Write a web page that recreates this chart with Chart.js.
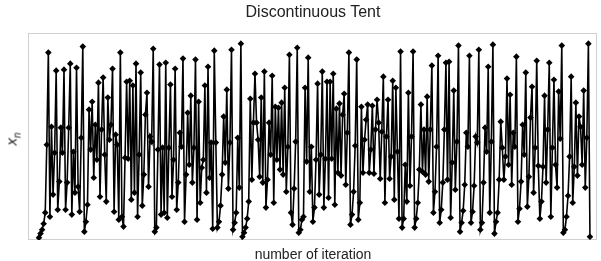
<!DOCTYPE html>
<html>
<head>
<meta charset="utf-8">
<script src="https://cdn.jsdelivr.net/npm/chart.js@4/dist/chart.umd.min.js"></script>
<style>
  html, body { margin: 0; padding: 0; background: #fff; }
  #wrap { position: relative; width: 601px; height: 261px; font-family: "Liberation Sans", Arial, sans-serif; color: #222; }
  #title { position: absolute; left: 28px; width: 570px; top: 3px; text-align: center; font-size: 16px; }
  #xlabel { position: absolute; left: 28px; width: 570px; top: 246px; text-align: center; font-size: 14px; }
  #ylabel { position: absolute; left: 6px; top: 129px; font-size: 15px; transform: rotate(-90deg); transform-origin: center; }
  #ylabel sub { font-size: 10px; }
  canvas { position: absolute; left: 0; top: 0; }
</style>
</head>
<body>
<div id="wrap">
  <canvas id="c" width="601" height="261"></canvas>
  <div id="title">Discontinuous Tent</div>
  <div id="ylabel"><i>x</i><sub><i>n</i></sub></div>
  <div id="xlabel">number of iteration</div>
</div>
<script>
/* ── Data (left to right) ────────────────────────────────────── */
var seg1 = [0.000, 0.021, 0.041, 0.072, 0.129, 0.479, 0.954, 0.108, 0.572, 0.222,
  0.438, 0.861, 0.144, 0.289, 0.567, 0.438, 0.866, 0.144, 0.284, 0.567,
  0.897, 0.119, 0.443, 0.232, 0.876];
var seg2 = [0.263, 0.134, 0.515, 0.985, 0.031, 0.082, 0.170, 0.660, 0.454, 0.701,
  0.309, 0.582, 0.402, 0.799, 0.211, 0.557, 0.825, 0.428, 0.186, 0.722,
  0.505, 0.582, 0.871, 0.134, 0.531, 0.479, 0.093, 0.954];
var seg3 = [0.108, 0.057, 0.412, 0.804, 0.407, 0.809, 0.196, 0.784, 0.232, 0.897,
  0.108, 0.428, 0.851, 0.165, 0.325, 0.634, 0.747, 0.263, 0.521, 0.495,
  0.974, 0.031, 0.052, 0.454, 0.892, 0.119, 0.464, 0.129, 0.902];
var seg4 = [0.103, 0.464, 0.789, 0.211, 0.402, 0.871, 0.144, 0.284, 0.541, 0.469,
  0.923, 0.082, 0.325, 0.644, 0.376, 0.732, 0.284, 0.464, 0.918, 0.093,
  0.701, 0.180, 0.361, 0.402, 0.784, 0.232, 0.881, 0.309, 0.490, 0.046, 0.964];
var seg5 = [0.490, 0.052, 0.082, 0.165, 0.325, 0.624, 0.387, 0.763, 0.253, 0.490,
  0.969, 0.041, 0.077, 0.129, 0.515, 0.258, 1.000, 0.005, 0.026, 0.052,
  0.098, 0.186, 0.716, 0.299, 0.593, 0.845, 0.593, 0.505, 0.314, 0.722];
var seg6 = [0.284, 0.856, 0.155, 0.299, 0.593, 0.428, 0.835, 0.180, 0.675, 0.402,
  0.670, 0.351, 0.696, 0.325, 0.773, 0.237, 0.469, 0.943, 0.129, 0.067,
  0.253, 0.495, 0.979, 0.026, 0.041, 0.093, 0.108, 0.773, 0.392, 0.928];
var seg7 = [0.237, 0.469, 0.082, 0.155, 0.402, 0.794, 0.222, 0.428, 0.856, 0.155,
  0.407, 0.804, 0.206, 0.804, 0.407, 0.845, 0.170, 0.665, 0.335, 0.691,
  0.320, 0.634, 0.742, 0.273, 0.541, 0.954, 0.067];
var seg8 = [0.119, 0.237, 0.474, 0.918, 0.093, 0.180, 0.675, 0.335, 0.505, 0.608,
  0.686, 0.335, 0.454, 0.680, 0.330, 0.557, 0.711, 0.593, 0.304, 0.546,
  0.830, 0.180, 0.521, 0.711, 0.304, 0.418, 0.809, 0.196, 0.773, 0.443,
  0.098, 0.959];
var seg9 = [0.052, 0.098, 0.376, 0.186, 0.747, 0.268, 0.521, 0.959, 0.052, 0.098,
  0.180, 0.351, 0.686, 0.340, 0.557, 0.325, 0.727, 0.289, 0.557, 0.887,
  0.129, 0.237, 0.469, 0.938, 0.077, 0.144, 0.284, 0.557, 0.902, 0.299];
var seg10 = [0.907, 0.103, 0.387, 0.758, 0.247, 0.495, 0.990, 0.031, 0.077, 0.139,
  0.273, 0.541, 0.469, 0.938, 0.077, 0.134, 0.268, 0.521, 0.490, 0.969,
  0.041, 0.077, 0.284, 0.567, 0.443, 0.881, 0.129, 0.495, 0.995, 0.021,
  0.082, 0.129, 0.299, 0.598, 0.464];
var seg11 = [0.299, 0.418, 0.820, 0.376, 0.737, 0.273, 0.541, 0.469, 0.933, 0.082,
  0.149, 0.289, 0.582, 0.428, 0.851, 0.160, 0.314, 0.619, 0.778, 0.232,
  0.464, 0.912, 0.371, 0.098, 0.186, 0.366, 0.732, 0.284, 0.557, 0.902,
  0.108, 0.464, 0.814];
var seg12 = [0.376, 0.258, 0.753, 0.510, 0.990, 0.026, 0.041, 0.108, 0.216, 0.418,
  0.830, 0.180, 0.366, 0.696, 0.320, 0.624, 0.572, 0.376, 0.758, 0.258,
  0.515, 1.000, 0.005];

var xn = [].concat(seg1, seg2, seg3, seg4, seg5, seg6, seg7, seg8, seg9, seg10, seg11, seg12);
var iterations = xn.map(function (v, i) { return i + 1; });

/* ── Frame plugin ─────────────────────────────────────────────── */
var framePlugin = {
  id: "frame",
  beforeDatasetsDraw: function (chart) {
    var a = chart.chartArea, ctx = chart.ctx;
    ctx.save();
    ctx.strokeStyle = "#cfcfcf";
    ctx.lineWidth = 1;
    ctx.strokeRect(a.left + 0.5, a.top + 0.5, a.right - a.left - 1, a.bottom - a.top - 1);
    ctx.restore();
  }
};

new Chart(document.getElementById("c").getContext("2d"), {
  type: "line",
  data: {
    datasets: [{
      data: xn.map(function (v, i) { return { x: iterations[i], y: v }; }),
      borderColor: "#000",
      backgroundColor: "#000",
      borderWidth: 1.6,
      pointStyle: "rectRot",
      pointRadius: 3.3,
      pointBorderWidth: 0,
      tension: 0,
      fill: false
    }]
  },
  options: {
    responsive: false,
    animation: false,
    events: [],
    layout: { padding: { left: 28, top: 33, right: 3, bottom: 21 } },
    plugins: { legend: { display: false }, tooltip: { enabled: false } },
    scales: {
      x: { type: "linear", display: false, min: -6, max: 357.5 },
      y: { display: false, min: -0.012, max: 1.055 }
    }
  },
  plugins: [framePlugin]
});
</script>
</body>
</html>
